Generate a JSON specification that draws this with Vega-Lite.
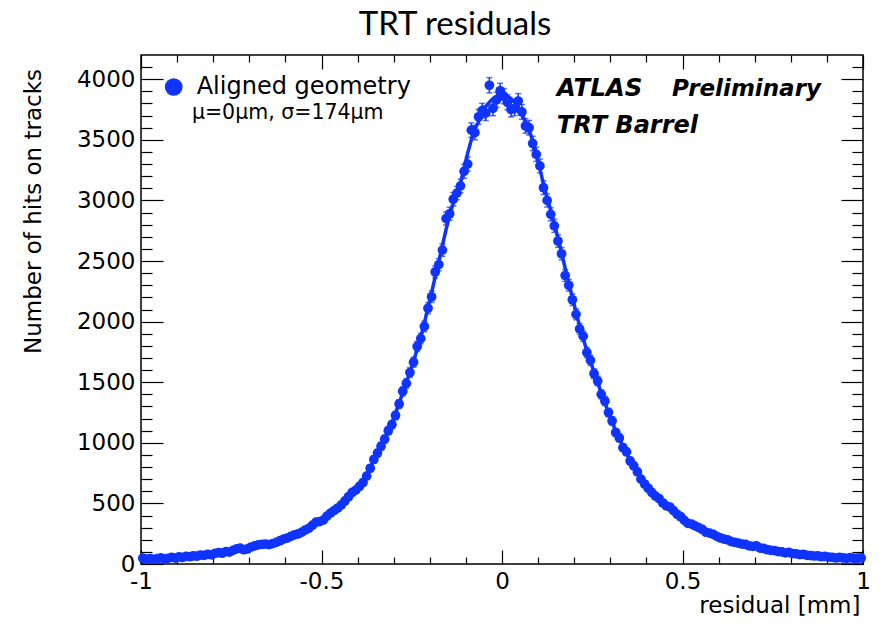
{
  "$schema": "https://vega.github.io/schema/vega-lite/v6.json",
  "width": 722,
  "height": 509,
  "autosize": {"type": "none"},
  "padding": {"left": 141, "top": 55, "right": 20, "bottom": 62},
  "background": "white",
  "config": {
    "view": {"stroke": "black", "strokeWidth": 1.5},
    "font": "DejaVu Sans",
    "axis": {
      "domain": false, "grid": false, "tickColor": "black", "tickWidth": 1.2,
      "labelFont": "DejaVu Sans", "labelFontSize": 23, "labelColor": "black",
      "titleFont": "DejaVu Sans", "titleFontSize": 23, "titleFontWeight": "normal", "titleColor": "black",
      "labelFlush": false, "labelOverlap": false, "labelBound": false
    }
  },
  "title": {"text": "TRT residuals", "font": "Lato", "fontSize": 33, "fontWeight": "normal", "color": "black", "anchor": "middle", "dx": -47, "dy": 32, "offset": 18, "baseline": "alphabetic"},
  "datasets": {
    "hist": [
      {"x": -0.995, "hits": 48, "err": 7, "fit": 42},
      {"x": -0.985, "hits": 40, "err": 6, "fit": 43},
      {"x": -0.975, "hits": 45, "err": 7, "fit": 44},
      {"x": -0.965, "hits": 38, "err": 6, "fit": 45},
      {"x": -0.955, "hits": 44, "err": 7, "fit": 46},
      {"x": -0.945, "hits": 50, "err": 7, "fit": 47},
      {"x": -0.935, "hits": 43, "err": 7, "fit": 49},
      {"x": -0.925, "hits": 47, "err": 7, "fit": 50},
      {"x": -0.915, "hits": 55, "err": 7, "fit": 52},
      {"x": -0.905, "hits": 49, "err": 7, "fit": 54},
      {"x": -0.895, "hits": 58, "err": 8, "fit": 56},
      {"x": -0.885, "hits": 54, "err": 7, "fit": 58},
      {"x": -0.875, "hits": 63, "err": 8, "fit": 60},
      {"x": -0.865, "hits": 60, "err": 8, "fit": 63},
      {"x": -0.855, "hits": 68, "err": 8, "fit": 65},
      {"x": -0.845, "hits": 64, "err": 8, "fit": 68},
      {"x": -0.835, "hits": 74, "err": 9, "fit": 71},
      {"x": -0.825, "hits": 71, "err": 8, "fit": 74},
      {"x": -0.815, "hits": 80, "err": 9, "fit": 77},
      {"x": -0.805, "hits": 76, "err": 9, "fit": 80},
      {"x": -0.795, "hits": 88, "err": 9, "fit": 84},
      {"x": -0.785, "hits": 93, "err": 10, "fit": 88},
      {"x": -0.775, "hits": 89, "err": 9, "fit": 92},
      {"x": -0.765, "hits": 102, "err": 10, "fit": 96},
      {"x": -0.755, "hits": 98, "err": 10, "fit": 101},
      {"x": -0.745, "hits": 112, "err": 11, "fit": 106},
      {"x": -0.735, "hits": 125, "err": 11, "fit": 111},
      {"x": -0.725, "hits": 130, "err": 11, "fit": 116},
      {"x": -0.715, "hits": 118, "err": 11, "fit": 122},
      {"x": -0.705, "hits": 124, "err": 11, "fit": 128},
      {"x": -0.695, "hits": 140, "err": 12, "fit": 135},
      {"x": -0.685, "hits": 150, "err": 12, "fit": 142},
      {"x": -0.675, "hits": 158, "err": 13, "fit": 149},
      {"x": -0.665, "hits": 162, "err": 13, "fit": 155},
      {"x": -0.655, "hits": 165, "err": 13, "fit": 161},
      {"x": -0.645, "hits": 160, "err": 13, "fit": 167},
      {"x": -0.635, "hits": 168, "err": 13, "fit": 174},
      {"x": -0.625, "hits": 178, "err": 13, "fit": 182},
      {"x": -0.615, "hits": 192, "err": 14, "fit": 190},
      {"x": -0.605, "hits": 205, "err": 14, "fit": 198},
      {"x": -0.595, "hits": 214, "err": 15, "fit": 208},
      {"x": -0.585, "hits": 228, "err": 15, "fit": 220},
      {"x": -0.575, "hits": 240, "err": 15, "fit": 232},
      {"x": -0.565, "hits": 248, "err": 16, "fit": 245},
      {"x": -0.555, "hits": 262, "err": 16, "fit": 258},
      {"x": -0.545, "hits": 280, "err": 17, "fit": 272},
      {"x": -0.535, "hits": 295, "err": 17, "fit": 290},
      {"x": -0.525, "hits": 320, "err": 18, "fit": 310},
      {"x": -0.515, "hits": 345, "err": 19, "fit": 328},
      {"x": -0.505, "hits": 350, "err": 19, "fit": 345},
      {"x": -0.495, "hits": 362, "err": 19, "fit": 365},
      {"x": -0.485, "hits": 395, "err": 20, "fit": 388},
      {"x": -0.475, "hits": 420, "err": 20, "fit": 412},
      {"x": -0.465, "hits": 440, "err": 21, "fit": 437},
      {"x": -0.455, "hits": 462, "err": 21, "fit": 462},
      {"x": -0.445, "hits": 488, "err": 22, "fit": 488},
      {"x": -0.435, "hits": 520, "err": 23, "fit": 515},
      {"x": -0.425, "hits": 555, "err": 24, "fit": 545},
      {"x": -0.415, "hits": 590, "err": 24, "fit": 578},
      {"x": -0.405, "hits": 610, "err": 25, "fit": 612},
      {"x": -0.395, "hits": 640, "err": 25, "fit": 648},
      {"x": -0.385, "hits": 672, "err": 26, "fit": 690},
      {"x": -0.375, "hits": 725, "err": 27, "fit": 742},
      {"x": -0.365, "hits": 790, "err": 28, "fit": 800},
      {"x": -0.355, "hits": 862, "err": 29, "fit": 855},
      {"x": -0.345, "hits": 915, "err": 30, "fit": 910},
      {"x": -0.335, "hits": 972, "err": 31, "fit": 970},
      {"x": -0.325, "hits": 1030, "err": 32, "fit": 1030},
      {"x": -0.315, "hits": 1100, "err": 33, "fit": 1095},
      {"x": -0.305, "hits": 1150, "err": 34, "fit": 1165},
      {"x": -0.295, "hits": 1225, "err": 35, "fit": 1245},
      {"x": -0.285, "hits": 1320, "err": 36, "fit": 1330},
      {"x": -0.275, "hits": 1425, "err": 38, "fit": 1410},
      {"x": -0.265, "hits": 1490, "err": 39, "fit": 1500},
      {"x": -0.255, "hits": 1580, "err": 40, "fit": 1585},
      {"x": -0.245, "hits": 1665, "err": 41, "fit": 1675},
      {"x": -0.235, "hits": 1795, "err": 42, "fit": 1770},
      {"x": -0.225, "hits": 1860, "err": 43, "fit": 1875},
      {"x": -0.215, "hits": 1960, "err": 44, "fit": 1990},
      {"x": -0.205, "hits": 2110, "err": 46, "fit": 2120},
      {"x": -0.195, "hits": 2205, "err": 47, "fit": 2240},
      {"x": -0.185, "hits": 2410, "err": 49, "fit": 2370},
      {"x": -0.175, "hits": 2470, "err": 50, "fit": 2500},
      {"x": -0.165, "hits": 2590, "err": 51, "fit": 2630},
      {"x": -0.155, "hits": 2850, "err": 53, "fit": 2760},
      {"x": -0.145, "hits": 2890, "err": 54, "fit": 2880},
      {"x": -0.135, "hits": 3010, "err": 55, "fit": 2975},
      {"x": -0.125, "hits": 3060, "err": 55, "fit": 3045},
      {"x": -0.115, "hits": 3120, "err": 56, "fit": 3140},
      {"x": -0.105, "hits": 3240, "err": 57, "fit": 3270},
      {"x": -0.095, "hits": 3300, "err": 57, "fit": 3390},
      {"x": -0.085, "hits": 3580, "err": 60, "fit": 3500},
      {"x": -0.075, "hits": 3560, "err": 60, "fit": 3590},
      {"x": -0.065, "hits": 3690, "err": 61, "fit": 3650},
      {"x": -0.055, "hits": 3740, "err": 61, "fit": 3710},
      {"x": -0.045, "hits": 3720, "err": 61, "fit": 3775},
      {"x": -0.035, "hits": 3950, "err": 63, "fit": 3810},
      {"x": -0.025, "hits": 3760, "err": 61, "fit": 3840},
      {"x": -0.015, "hits": 3830, "err": 62, "fit": 3860},
      {"x": -0.005, "hits": 3905, "err": 62, "fit": 3875},
      {"x": 0.005, "hits": 3860, "err": 62, "fit": 3875},
      {"x": 0.015, "hits": 3810, "err": 62, "fit": 3860},
      {"x": 0.025, "hits": 3750, "err": 61, "fit": 3840},
      {"x": 0.035, "hits": 3760, "err": 61, "fit": 3810},
      {"x": 0.045, "hits": 3820, "err": 62, "fit": 3775},
      {"x": 0.055, "hits": 3730, "err": 61, "fit": 3710},
      {"x": 0.065, "hits": 3615, "err": 60, "fit": 3650},
      {"x": 0.075, "hits": 3600, "err": 60, "fit": 3585},
      {"x": 0.085, "hits": 3470, "err": 59, "fit": 3490},
      {"x": 0.095, "hits": 3380, "err": 58, "fit": 3380},
      {"x": 0.105, "hits": 3285, "err": 57, "fit": 3260},
      {"x": 0.115, "hits": 3105, "err": 56, "fit": 3135},
      {"x": 0.125, "hits": 3000, "err": 55, "fit": 3020},
      {"x": 0.135, "hits": 2885, "err": 54, "fit": 2920},
      {"x": 0.145, "hits": 2790, "err": 53, "fit": 2810},
      {"x": 0.155, "hits": 2665, "err": 52, "fit": 2690},
      {"x": 0.165, "hits": 2560, "err": 51, "fit": 2570},
      {"x": 0.175, "hits": 2380, "err": 49, "fit": 2440},
      {"x": 0.185, "hits": 2300, "err": 48, "fit": 2320},
      {"x": 0.195, "hits": 2180, "err": 47, "fit": 2200},
      {"x": 0.205, "hits": 2060, "err": 45, "fit": 2080},
      {"x": 0.215, "hits": 1940, "err": 44, "fit": 1965},
      {"x": 0.225, "hits": 1880, "err": 43, "fit": 1860},
      {"x": 0.235, "hits": 1745, "err": 42, "fit": 1760},
      {"x": 0.245, "hits": 1680, "err": 41, "fit": 1670},
      {"x": 0.255, "hits": 1570, "err": 40, "fit": 1585},
      {"x": 0.265, "hits": 1510, "err": 39, "fit": 1500},
      {"x": 0.275, "hits": 1400, "err": 37, "fit": 1410},
      {"x": 0.285, "hits": 1345, "err": 37, "fit": 1330},
      {"x": 0.295, "hits": 1250, "err": 35, "fit": 1250},
      {"x": 0.305, "hits": 1180, "err": 34, "fit": 1170},
      {"x": 0.315, "hits": 1085, "err": 33, "fit": 1100},
      {"x": 0.325, "hits": 1040, "err": 32, "fit": 1035},
      {"x": 0.335, "hits": 960, "err": 31, "fit": 970},
      {"x": 0.345, "hits": 925, "err": 30, "fit": 910},
      {"x": 0.355, "hits": 850, "err": 29, "fit": 855},
      {"x": 0.365, "hits": 810, "err": 28, "fit": 805},
      {"x": 0.375, "hits": 760, "err": 28, "fit": 755},
      {"x": 0.385, "hits": 700, "err": 26, "fit": 705},
      {"x": 0.395, "hits": 660, "err": 26, "fit": 660},
      {"x": 0.405, "hits": 625, "err": 25, "fit": 618},
      {"x": 0.415, "hits": 590, "err": 24, "fit": 585},
      {"x": 0.425, "hits": 560, "err": 24, "fit": 555},
      {"x": 0.435, "hits": 540, "err": 23, "fit": 530},
      {"x": 0.445, "hits": 505, "err": 22, "fit": 505},
      {"x": 0.455, "hits": 480, "err": 22, "fit": 482},
      {"x": 0.465, "hits": 470, "err": 22, "fit": 458},
      {"x": 0.475, "hits": 440, "err": 21, "fit": 433},
      {"x": 0.485, "hits": 410, "err": 20, "fit": 408},
      {"x": 0.495, "hits": 390, "err": 20, "fit": 385},
      {"x": 0.505, "hits": 360, "err": 19, "fit": 362},
      {"x": 0.515, "hits": 335, "err": 18, "fit": 343},
      {"x": 0.525, "hits": 330, "err": 18, "fit": 326},
      {"x": 0.535, "hits": 315, "err": 18, "fit": 310},
      {"x": 0.545, "hits": 300, "err": 17, "fit": 294},
      {"x": 0.555, "hits": 285, "err": 17, "fit": 279},
      {"x": 0.565, "hits": 262, "err": 16, "fit": 265},
      {"x": 0.575, "hits": 255, "err": 16, "fit": 251},
      {"x": 0.585, "hits": 245, "err": 16, "fit": 238},
      {"x": 0.595, "hits": 228, "err": 15, "fit": 225},
      {"x": 0.605, "hits": 215, "err": 15, "fit": 214},
      {"x": 0.615, "hits": 205, "err": 14, "fit": 205},
      {"x": 0.625, "hits": 200, "err": 14, "fit": 196},
      {"x": 0.635, "hits": 185, "err": 14, "fit": 188},
      {"x": 0.645, "hits": 178, "err": 13, "fit": 180},
      {"x": 0.655, "hits": 172, "err": 13, "fit": 174},
      {"x": 0.665, "hits": 165, "err": 13, "fit": 167},
      {"x": 0.675, "hits": 162, "err": 13, "fit": 161},
      {"x": 0.685, "hits": 150, "err": 12, "fit": 153},
      {"x": 0.695, "hits": 146, "err": 12, "fit": 146},
      {"x": 0.705, "hits": 150, "err": 12, "fit": 138},
      {"x": 0.715, "hits": 132, "err": 11, "fit": 132},
      {"x": 0.725, "hits": 128, "err": 11, "fit": 125},
      {"x": 0.735, "hits": 118, "err": 11, "fit": 120},
      {"x": 0.745, "hits": 112, "err": 11, "fit": 114},
      {"x": 0.755, "hits": 110, "err": 10, "fit": 109},
      {"x": 0.765, "hits": 102, "err": 10, "fit": 104},
      {"x": 0.775, "hits": 100, "err": 10, "fit": 99},
      {"x": 0.785, "hits": 92, "err": 10, "fit": 95},
      {"x": 0.795, "hits": 95, "err": 10, "fit": 91},
      {"x": 0.805, "hits": 86, "err": 9, "fit": 86},
      {"x": 0.815, "hits": 84, "err": 9, "fit": 83},
      {"x": 0.825, "hits": 78, "err": 9, "fit": 80},
      {"x": 0.835, "hits": 80, "err": 9, "fit": 77},
      {"x": 0.845, "hits": 72, "err": 8, "fit": 73},
      {"x": 0.855, "hits": 70, "err": 8, "fit": 70},
      {"x": 0.865, "hits": 66, "err": 8, "fit": 68},
      {"x": 0.875, "hits": 68, "err": 8, "fit": 65},
      {"x": 0.885, "hits": 60, "err": 8, "fit": 63},
      {"x": 0.895, "hits": 62, "err": 8, "fit": 60},
      {"x": 0.905, "hits": 57, "err": 8, "fit": 58},
      {"x": 0.915, "hits": 55, "err": 7, "fit": 56},
      {"x": 0.925, "hits": 50, "err": 7, "fit": 54},
      {"x": 0.935, "hits": 55, "err": 7, "fit": 53},
      {"x": 0.945, "hits": 50, "err": 7, "fit": 51},
      {"x": 0.955, "hits": 46, "err": 7, "fit": 50},
      {"x": 0.965, "hits": 52, "err": 7, "fit": 49},
      {"x": 0.975, "hits": 47, "err": 7, "fit": 48},
      {"x": 0.985, "hits": 48, "err": 7, "fit": 47},
      {"x": 0.995, "hits": 50, "err": 7, "fit": 46}
    ]
  },
  "layer": [
    {
      "data": {"name": "hist"},
      "mark": {"type": "line", "color": "#1034ff", "strokeWidth": 3.5},
      "encoding": {
        "x": {"field": "x", "type": "quantitative", "scale": {"domain": [-1, 1], "nice": false, "zero": false},
          "axis": {"orient": "bottom", "title": "residual [mm]", "titleX": 719, "titleY": 41, "titleAlign": "right", "titleAnchor": null, "titleBaseline": "middle",
            "values": [-1, -0.9, -0.8, -0.7, -0.6, -0.5, -0.4, -0.3, -0.2, -0.1, 0, 0.1, 0.2, 0.3, 0.4, 0.5, 0.6, 0.7, 0.8, 0.9, 1],
            "tickSize": {"condition": {"test": "abs(datum.value*2 - round(datum.value*2)) < 0.001", "value": -14}, "value": -7},
            "labelPadding": 20,
            "labelExpr": "abs(datum.value*2 - round(datum.value*2)) < 0.001 ? replace(format(datum.value, '~g'), '\u2212', '-') : ''"}},
        "y": {"field": "fit", "type": "quantitative", "scale": {"domain": [0, 4200], "nice": false},
          "axis": {"orient": "left", "title": "Number of hits on tracks", "titleX": -108, "titleY": 156, "titleAngle": -90, "titleAlign": "center", "titleAnchor": null, "titleBaseline": "middle",
            "values": [0, 100, 200, 300, 400, 500, 600, 700, 800, 900, 1000, 1100, 1200, 1300, 1400, 1500, 1600, 1700, 1800, 1900, 2000, 2100, 2200, 2300, 2400, 2500, 2600, 2700, 2800, 2900, 3000, 3100, 3200, 3300, 3400, 3500, 3600, 3700, 3800, 3900, 4000, 4100],
            "tickSize": {"condition": {"test": "datum.value % 500 == 0", "value": -22}, "value": -11},
            "labelPadding": 28, "format": "d",
            "labelExpr": "datum.value % 500 == 0 ? datum.label : ''"}}
      }
    },
    {
      "data": {"name": "hist"},
      "mark": {"type": "errorbar", "ticks": {"size": 6}, "color": "#1034ff", "thickness": 1.5},
      "encoding": {
        "x": {"field": "x", "type": "quantitative", "axis": null},
        "y": {"field": "hits", "type": "quantitative", "axis": null},
        "yError": {"field": "err"}
      }
    },
    {
      "data": {"name": "hist"},
      "mark": {"type": "point", "filled": true, "size": 95, "opacity": 1, "shape": "circle"},
      "encoding": {
        "x": {"field": "x", "type": "quantitative",
          "axis": {"orient": "top", "title": null, "labels": false,
            "values": [-1, -0.9, -0.8, -0.7, -0.6, -0.5, -0.4, -0.3, -0.2, -0.1, 0, 0.1, 0.2, 0.3, 0.4, 0.5, 0.6, 0.7, 0.8, 0.9, 1],
            "tickSize": {"condition": {"test": "abs(datum.value*2 - round(datum.value*2)) < 0.001", "value": -14}, "value": -7}}},
        "y": {"field": "hits", "type": "quantitative",
          "axis": {"orient": "right", "title": null, "labels": false,
            "values": [0, 100, 200, 300, 400, 500, 600, 700, 800, 900, 1000, 1100, 1200, 1300, 1400, 1500, 1600, 1700, 1800, 1900, 2000, 2100, 2200, 2300, 2400, 2500, 2600, 2700, 2800, 2900, 3000, 3100, 3200, 3300, 3400, 3500, 3600, 3700, 3800, 3900, 4000, 4100],
            "tickSize": {"condition": {"test": "datum.value % 500 == 0", "value": -22}, "value": -11}}},
        "color": {"datum": "Aligned geometry", "type": "nominal", "scale": {"range": ["#1034ff"]},
          "legend": {"orient": "none", "legendX": 20.7, "legendY": 20, "title": null, "symbolSize": 314, "symbolType": "circle", "symbolStrokeWidth": 0, "symbolOpacity": 1,
            "labelFont": "DejaVu Sans", "labelFontSize": 24, "labelColor": "black", "labelOffset": 11, "labelLimit": 500, "padding": 0}}
      }
    },
    {
      "data": {"values": [{}]},
      "mark": {"type": "text", "text": "μ=0μm, σ=174μm", "font": "DejaVu Sans", "fontSize": 20.5, "align": "left", "baseline": "alphabetic", "color": "black"},
      "encoding": {"x": {"datum": -0.859, "type": "quantitative", "axis": null}, "y": {"datum": 3669, "type": "quantitative", "axis": null}}
    },
    {
      "data": {"values": [{}]},
      "mark": {"type": "text", "text": "ATLAS", "font": "DejaVu Sans", "fontSize": 24.5, "fontWeight": "bold", "fontStyle": "italic", "align": "left", "baseline": "alphabetic", "color": "black"},
      "encoding": {"x": {"datum": 0.152, "type": "quantitative", "axis": null}, "y": {"datum": 3862, "type": "quantitative", "axis": null}}
    },
    {
      "data": {"values": [{}]},
      "mark": {"type": "text", "text": "Preliminary", "font": "DejaVu Sans", "fontSize": 23, "fontWeight": "bold", "fontStyle": "italic", "align": "left", "baseline": "alphabetic", "color": "black"},
      "encoding": {"x": {"datum": 0.471, "type": "quantitative", "axis": null}, "y": {"datum": 3862, "type": "quantitative", "axis": null}}
    },
    {
      "data": {"values": [{}]},
      "mark": {"type": "text", "text": "TRT Barrel", "font": "DejaVu Sans", "fontSize": 24, "fontWeight": "bold", "fontStyle": "italic", "align": "left", "baseline": "alphabetic", "color": "black"},
      "encoding": {"x": {"datum": 0.152, "type": "quantitative", "axis": null}, "y": {"datum": 3556, "type": "quantitative", "axis": null}}
    }
  ],
  "resolve": {"axis": {"x": "independent", "y": "independent"}}
}
